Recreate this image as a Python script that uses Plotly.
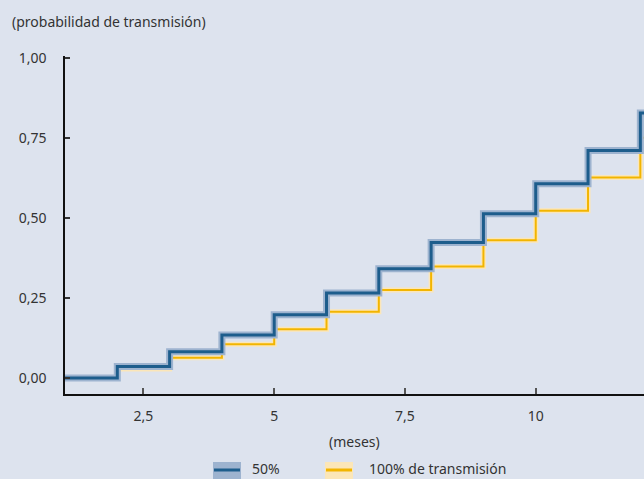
import plotly.graph_objects as go

# ---- data ----
months = [1, 2, 3, 4, 5, 6, 7, 8, 9, 10, 11, 12]
prob_50 = [0.0, 0.036, 0.082, 0.134, 0.197, 0.265, 0.341, 0.423, 0.513, 0.606, 0.710, 0.827]
prob_100 = [0.0, 0.028, 0.063, 0.105, 0.152, 0.207, 0.275, 0.348, 0.430, 0.522, 0.626, 0.750]
x_tickvals = [2.5, 5, 7.5, 10]
x_ticktext = ["2,5", "5", "7,5", "10"]
y_tickvals = [0, 0.25, 0.5, 0.75, 1.0]
y_ticktext = ["0,00", "0,25", "0,50", "0,75", "1,00"]
series_names = ["50%", "100% de transmisión"]

X_MIN, X_MAX = 1, 12.07
Y_MIN, Y_MAX = -0.05, 1.005

BG = "#dde3ee"
BLUE = "#1d5d8c"
BLUE_BAND = "#9db3cf"
YEL = "#f2b500"
YEL_BAND = "#fbe6b8"
FONT = "Noto Sans"
TXT = "#333333"
FS = 14

# extend last step to the edge of the axis range
xs = months + [X_MAX]
y50 = prob_50 + [prob_50[-1]]
y100 = prob_100 + [prob_100[-1]]

fig = go.Figure()
fig.add_trace(go.Scatter(x=xs, y=y100, mode="lines", line=dict(color=YEL_BAND, width=5, shape="hv"),
                         showlegend=False, hoverinfo="skip"))
fig.add_trace(go.Scatter(x=xs, y=y100, mode="lines", line=dict(color=YEL, width=2, shape="hv"),
                         name=series_names[1], showlegend=False))
fig.add_trace(go.Scatter(x=xs, y=y50, mode="lines", line=dict(color=BLUE_BAND, width=7, shape="hv"),
                         showlegend=False, hoverinfo="skip"))
fig.add_trace(go.Scatter(x=xs, y=y50, mode="lines", line=dict(color=BLUE, width=3, shape="hv"),
                         name=series_names[0], showlegend=False))

fig.update_layout(
    width=644, height=479,
    margin=dict(l=65, r=0, t=56, b=85),
    paper_bgcolor=BG, plot_bgcolor=BG,
    font=dict(family=FONT, size=FS, color=TXT),
    showlegend=False,
)
fig.update_xaxes(range=[X_MIN, X_MAX], showgrid=False, zeroline=False,
                 showline=True, linecolor="#111111", linewidth=1.5,
                 ticks="inside", ticklen=6, tickwidth=1.5, tickcolor="#555555",
                 tickvals=x_tickvals, ticktext=x_ticktext, ticklabelstandoff=8)
fig.update_yaxes(range=[Y_MIN, Y_MAX], showgrid=False, zeroline=False,
                 showline=True, linecolor="#111111", linewidth=1.5,
                 ticks="inside", ticklen=5, tickwidth=1.5, tickcolor="#333333",
                 tickvals=y_tickvals, ticktext=y_ticktext, ticklabelstandoff=14)

# title and axis title
fig.add_annotation(text="(probabilidad de transmisión)", xref="paper", yref="paper",
                   x=-55/579, y=1 + (56-22)/338, xanchor="left", yanchor="middle",
                   showarrow=False, font=dict(size=FS, color=TXT))
fig.add_annotation(text="(meses)", xref="paper", yref="paper",
                   x=0.5, y=-(441-394)/338, xanchor="center", yanchor="middle",
                   showarrow=False, font=dict(size=FS, color=TXT))

# manual legend (pixel positions converted to paper coords)
def px(xp):
    return (xp - 65) / 579
def py(yp):
    return (394 - yp) / 338

LEG_Y = 469
fig.add_shape(type="rect", xref="paper", yref="paper", x0=px(213), x1=px(241), y0=py(462), y1=py(481),
              fillcolor=BLUE_BAND, line=dict(width=0), layer="above")
fig.add_shape(type="line", xref="paper", yref="paper", x0=px(214), x1=px(240), y0=py(470), y1=py(470),
              line=dict(color=BLUE, width=3), layer="above")
fig.add_annotation(text=series_names[0], xref="paper", yref="paper", x=px(250), y=py(LEG_Y),
                   xanchor="left", yanchor="middle", showarrow=False, font=dict(size=FS, color=TXT))
fig.add_shape(type="rect", xref="paper", yref="paper", x0=px(325), x1=px(353), y0=py(462), y1=py(481),
              fillcolor=YEL_BAND, line=dict(width=0), layer="above")
fig.add_shape(type="line", xref="paper", yref="paper", x0=px(326), x1=px(352), y0=py(470), y1=py(470),
              line=dict(color=YEL, width=3), layer="above")
fig.add_annotation(text=series_names[1], xref="paper", yref="paper", x=px(367), y=py(LEG_Y),
                   xanchor="left", yanchor="middle", showarrow=False, font=dict(size=FS, color=TXT))

fig.write_html("out.html", config={"displayModeBar": False},
               post_script="document.body.style.margin='0';")
